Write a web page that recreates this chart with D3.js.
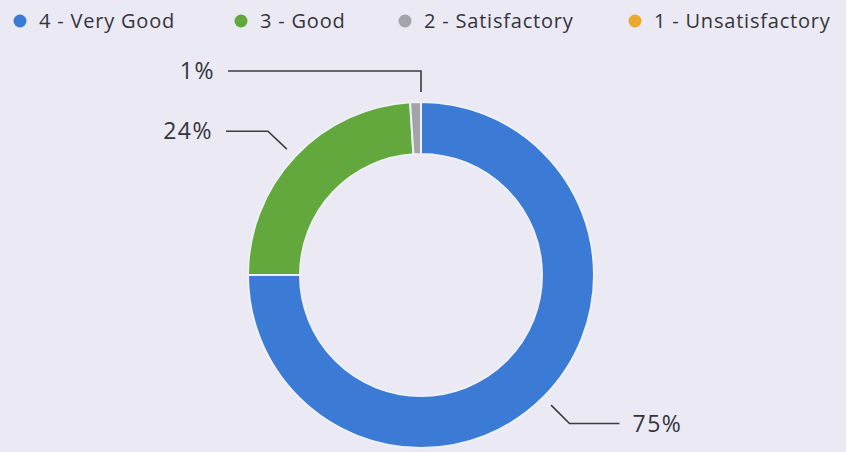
<!DOCTYPE html>
<html>
<head>
<meta charset="utf-8">
<script src="https://cdn.jsdelivr.net/npm/d3@7"></script>
<style>
  html, body { margin: 0; padding: 0; background: #ebeaf4; }
  svg { display: block; }
  text { font-family: "Open Sans", "DejaVu Sans", sans-serif; fill: #34343b; }
</style>
</head>
<body>
<svg id="chart" width="846" height="452"></svg>
<script>
const categories = ["4 - Very Good", "3 - Good", "2 - Satisfactory", "1 - Unsatisfactory"];
const values = [75, 24, 1, 0];
const percentLabels = ["75%", "24%", "1%", ""];
const colors = ["#3b7bd6", "#62a83c", "#a3a3ab", "#e8aa2e"];

const W = 846, H = 452;
const svg = d3.select("#chart");
const cx = 421, cy = 275, rOut = 173, rIn = 121;

const data = categories.map((c, i) => ({ cat: c, value: values[i], label: percentLabels[i], color: colors[i] }));

const pie = d3.pie().value(d => d.value).sort(null);
const arcs = pie(data);
const arc = d3.arc().innerRadius(rIn).outerRadius(rOut);

const g = svg.append("g").attr("transform", `translate(${cx},${cy})`);
g.selectAll("path.slice")
  .data(arcs.filter(a => a.data.value > 0))
  .join("path")
  .attr("class", "slice")
  .attr("d", arc)
  .attr("fill", d => d.data.color)
  .attr("stroke", "#eef0f4")
  .attr("stroke-width", 2);

// leader lines and labels
function pt(angle, r) { return [r * Math.sin(angle), -r * Math.cos(angle)]; }
const leftEndX = 226 - cx;
arcs.filter(a => a.data.value > 0).forEach(a => {
  const mid = (a.startAngle + a.endAngle) / 2;
  const nearTop = Math.abs(Math.sin(mid)) < 0.1;
  const right = Math.sin(mid) > 0 && !nearTop;
  let p0 = pt(mid, rOut + 11);
  let p1 = pt(mid, rOut + 37);
  let pts;
  if (nearTop) {
    p0 = [0, -(rOut + 10)];
    p1 = [0, -(rOut + 31)];
    pts = [p0, p1, [leftEndX + 2, p1[1]]];
  } else {
    const endX = right ? p1[0] + 50 : leftEndX;
    pts = [p0, p1, [endX, p1[1]]];
  }
  g.append("path")
    .attr("d", d3.line()(pts))
    .attr("fill", "none")
    .attr("stroke", "#3a3a40")
    .attr("stroke-width", 1.6);
  const last = pts[pts.length - 1];
  g.append("text")
    .attr("x", right ? last[0] + 13 : last[0] - 13)
    .attr("y", last[1])
    .attr("dy", "0.35em")
    .attr("text-anchor", right ? "start" : "end")
    .attr("font-size", 23)
    .attr("letter-spacing", 1.5)
    .text(a.data.label);
});

// legend
const legend = svg.append("g").attr("class", "legend");
const items = legend.selectAll("g.item").data(data).join("g").attr("class", "item");
items.append("circle").attr("r", 6.5).attr("cx", 0).attr("cy", 0).attr("fill", d => d.color);
items.append("text").attr("x", 19).attr("y", 0).attr("dy", "0.35em")
  .attr("font-size", 20).attr("letter-spacing", 0.8).text(d => d.cat);
const legendStarts = [20, 241, 405, 635];
items.attr("transform", (d, i) => `translate(${legendStarts[i]},21)`);
</script>
</body>
</html>
